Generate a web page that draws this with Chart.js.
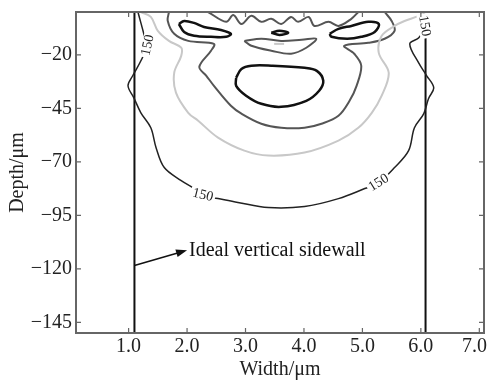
<!DOCTYPE html>
<html>
<head>
<meta charset="utf-8">
<script src="https://cdn.jsdelivr.net/npm/chart.js@4.4.1/dist/chart.umd.min.js"></script>
<style>
html, body { margin: 0; padding: 0; background: #fff; }
</style>
</head>
<body>
<canvas id="contourChart" width="489" height="382"></canvas>
<script>
// axis ticks
const xTicks = [1, 2, 3, 4, 5, 6, 7];
const yTicks = [-20, -45, -70, -95, -120, -145];

// ideal sidewalls (x positions, um)
const sidewallX = [1.1, 6.08];

// contour lines, [width, depth]
const contourOuter = [
    [1.16, 0], [1.21, -5.1], [1.26, -10.2], [1.31, -15.8], [1.21, -22.8], [1.07, -29.8],
    [0.99, -34.5], [1.09, -40.1], [1.21, -47.1], [1.38, -54.1], [1.47, -63.4], [1.61, -72.7],
    [1.9, -78.8], [2.12, -82.5], [2.27, -85.8], [2.53, -87.2], [2.87, -89.0], [3.39, -91.4],
    [4.01, -90.9], [4.59, -87.2], [5.04, -82.5], [5.28, -79.7], [5.55, -72.7], [5.79, -64.8],
    [5.89, -54.1], [6.05, -47.5], [6.13, -40.5], [6.22, -35.4], [6.1, -29.8], [5.96, -23.7],
    [5.81, -14.9], [5.96, -12.1], [6.06, -7.4], [6.05, 0]
];
const contourLight = [
    [1.21, 0], [1.38, -2.3], [1.5, -8.8], [1.69, -13.5], [1.9, -16.7], [1.9, -20.5],
    [1.78, -28.4], [1.81, -37.7], [2.02, -47.1], [2.19, -50.8], [2.53, -58.7], [2.98, -64.8],
    [3.39, -67.1], [4.01, -65.7], [4.59, -60.1], [4.93, -54.1], [5.16, -47.1], [5.33, -39.1],
    [5.45, -28.4], [5.28, -19.1], [5.33, -11.1], [5.55, -6.5], [5.72, -4.2], [5.96, -1.8], [6.05, 0]
];
const contourMid = [
    [1.69, 0], [1.67, -4.2], [1.78, -10.2], [2.02, -13.5], [2.46, -14.9], [2.41, -18.1],
    [2.21, -25.6], [2.33, -29.8], [2.46, -34.5], [2.75, -43.8], [2.93, -47.5], [3.27, -52.2],
    [3.61, -54.1], [4.01, -54.1], [4.3, -52.2], [4.59, -48.5], [4.78, -41.5], [4.9, -34.5],
    [4.98, -25.1], [4.86, -19.5], [4.69, -15.8], [5.1, -14.4], [5.38, -12.5], [5.55, -8.8],
    [5.5, -4.2], [5.38, 0]
];
const contourTop = [
    [2.36, 0], [2.67, -4.6], [2.79, -1.4], [2.93, -5.6], [3.1, -1.8], [3.27, -4.6], [3.44, -3.2],
    [3.61, -5.6], [3.78, -2.3], [3.9, -4.6], [4.08, -2.3], [4.18, -6.5], [4.42, -4.6],
    [4.59, -6.5], [4.81, -3.2], [4.93, 0]
];
const contourBowl = [
    [2.98, -13.5], [3.27, -12.5], [3.61, -13.5], [3.96, -13.0], [4.21, -12.5], [4.04, -16.7],
    [3.78, -19.5], [3.44, -18.1], [3.1, -15.8], [2.98, -13.5]
];
const islandLeft = [
    [1.86, -5.6], [1.95, -4.2], [2.12, -5.1], [2.29, -7.0], [2.58, -8.4], [2.75, -10.2],
    [2.67, -11.6], [2.41, -11.6], [2.12, -11.1], [1.95, -9.3], [1.86, -5.6]
];
const islandRight = [
    [4.44, -10.2], [4.59, -7.9], [4.81, -6.5], [5.1, -4.6], [5.28, -5.6], [5.21, -9.3],
    [4.98, -11.6], [4.74, -12.5], [4.47, -11.6], [4.44, -10.2]
];
const islandSmall = [[3.44, -9.7], [3.58, -8.8], [3.73, -9.7], [3.58, -10.7], [3.44, -9.7]];
const dashLight = [[3.49, -14.9], [3.66, -14.9]];
const oval = [
    [2.84, -30.7], [2.93, -26.6], [3.1, -25.1], [3.44, -25.1], [4.01, -26.1], [4.22, -27.5],
    [4.33, -32.1], [4.26, -36.8], [4.04, -41.5], [3.61, -44.3], [3.27, -42.9], [3.01, -39.1],
    [2.84, -34.5], [2.84, -30.7]
];

// "150" labels on the outer contour: [x, y, angle]
const labels150 = [[1.33, -15.5, -78], [2.27, -85.6, 14], [5.28, -79.8, -32], [6.06, -6.5, 80]];

// annotation
const arrowFrom = [1.1, -118.5];
const arrowTo = [2.0, -111.3];
const noteText = "Ideal vertical sidewall";

const toPts = arr => arr.map(p => ({ x: p[0], y: p[1] }));
const serif = "'Liberation Serif', 'DejaVu Serif', serif";

function line(data, color, width) {
    return {
        data: toPts(data),
        showLine: true,
        borderColor: color,
        borderWidth: width,
        pointRadius: 0,
        tension: 0.35,
        fill: false
    };
}

const framePlugin = {
    id: "frame",
    afterDatasetsDraw(chart) {
        const ctx = chart.ctx;
        const a = chart.chartArea;
        const xs = chart.scales.x;
        const ys = chart.scales.y;

        // contour labels
        ctx.save();
        ctx.font = "14px " + serif;
        ctx.textAlign = "center";
        ctx.textBaseline = "middle";
        labels150.forEach(l => {
            ctx.save();
            ctx.translate(xs.getPixelForValue(l[0]), ys.getPixelForValue(l[1]));
            ctx.rotate(l[2] * Math.PI / 180);
            const w = ctx.measureText("150").width;
            ctx.fillStyle = "#fff";
            ctx.fillRect(-w / 2 - 2, -6, w + 4, 12);
            ctx.fillStyle = "#222";
            ctx.fillText("150", 0, 0);
            ctx.restore();
        });
        ctx.restore();

        // arrow + note
        const x1 = xs.getPixelForValue(arrowFrom[0]), y1 = ys.getPixelForValue(arrowFrom[1]);
        const x2 = xs.getPixelForValue(arrowTo[0]), y2 = ys.getPixelForValue(arrowTo[1]);
        const ang = Math.atan2(y2 - y1, x2 - x1);
        ctx.save();
        ctx.strokeStyle = "#111";
        ctx.fillStyle = "#111";
        ctx.lineWidth = 1.5;
        ctx.beginPath();
        ctx.moveTo(x1, y1);
        ctx.lineTo(x2 - 8 * Math.cos(ang), y2 - 8 * Math.sin(ang));
        ctx.stroke();
        ctx.beginPath();
        ctx.moveTo(x2, y2);
        ctx.lineTo(x2 - 11 * Math.cos(ang) + 4 * Math.sin(ang), y2 - 11 * Math.sin(ang) - 4 * Math.cos(ang));
        ctx.lineTo(x2 - 11 * Math.cos(ang) - 4 * Math.sin(ang), y2 - 11 * Math.sin(ang) + 4 * Math.cos(ang));
        ctx.closePath();
        ctx.fill();
        ctx.font = "20px " + serif;
        ctx.textAlign = "left";
        ctx.textBaseline = "middle";
        ctx.fillText(noteText, x2 + 2, y2 + 1);
        ctx.restore();

        // frame with inward ticks
        ctx.save();
        ctx.strokeStyle = "#666";
        ctx.lineWidth = 2;
        ctx.strokeRect(a.left, a.top, a.right - a.left, a.bottom - a.top);
        ctx.lineWidth = 1.2;
        ctx.beginPath();
        xTicks.forEach(v => {
            const px = xs.getPixelForValue(v);
            ctx.moveTo(px, a.bottom); ctx.lineTo(px, a.bottom - 5);
            ctx.moveTo(px, a.top); ctx.lineTo(px, a.top + 5);
        });
        yTicks.forEach(v => {
            const py = ys.getPixelForValue(v);
            ctx.moveTo(a.left, py); ctx.lineTo(a.left + 5, py);
            ctx.moveTo(a.right, py); ctx.lineTo(a.right - 5, py);
        });
        ctx.stroke();

        // x tick labels (kept inside the canvas at the right edge)
        ctx.font = "20px " + serif;
        ctx.fillStyle = "#222";
        ctx.textAlign = "center";
        ctx.textBaseline = "top";
        xTicks.forEach(v => {
            const txt = v.toFixed(1);
            const w = ctx.measureText(txt).width;
            const px = Math.min(xs.getPixelForValue(v), chart.width - w / 2 - 2);
            ctx.fillText(txt, px, a.bottom + 4);
        });
        ctx.restore();
    }
};

const datasets = [
    line(contourLight, "#c8c8c8", 2),
    line(dashLight, "#c8c8c8", 2),
    line(contourMid, "#555", 2),
    line(contourTop, "#555", 2),
    line(contourBowl, "#555", 2),
    line(contourOuter, "#222", 1.5),
    line(islandLeft, "#111", 2.5),
    line(islandRight, "#111", 2.5),
    line(islandSmall, "#111", 2.5),
    line(oval, "#111", 2.5)
];
sidewallX.forEach(x => {
    const d = line([[x, 0], [x, -150]], "#111", 2);
    d.tension = 0;
    datasets.push(d);
});

new Chart(document.getElementById("contourChart"), {
    type: "scatter",
    data: { datasets: datasets },
    options: {
        responsive: false,
        animation: false,
        layout: { padding: { top: 12, right: 5, left: 0, bottom: 0 } },
        plugins: {
            legend: { display: false },
            tooltip: { enabled: false }
        },
        scales: {
            x: {
                type: "linear",
                min: 0.1,
                max: 7.08,
                afterBuildTicks: s => { s.ticks = xTicks.map(v => ({ value: v })); },
                afterFit: s => { s.height = 49; s.paddingLeft = 0; s.paddingRight = 0; },
                grid: { display: false, drawTicks: false },
                border: { display: false },
                ticks: { display: false },
                title: {
                    display: true,
                    text: "Width/μm",
                    color: "#222",
                    font: { family: serif, size: 20 },
                    padding: 0
                }
            },
            y: {
                type: "linear",
                min: -150,
                max: 0,
                afterBuildTicks: s => { s.ticks = yTicks.map(v => ({ value: v })); },
                afterFit: s => { s.width = 76; s.paddingTop = 0; s.paddingBottom = 0; },
                grid: { display: false, drawTicks: false },
                border: { display: false },
                ticks: {
                    color: "#222",
                    padding: 4,
                    font: { family: serif, size: 20 },
                    callback: v => (v < 0 ? "\u2212" + Math.abs(v) : String(v))
                },
                title: {
                    display: true,
                    text: "Depth/μm",
                    color: "#222",
                    font: { family: serif, size: 20 },
                    padding: { top: 6, bottom: 0 }
                }
            }
        }
    },
    plugins: [framePlugin]
});
</script>
</body>
</html>
